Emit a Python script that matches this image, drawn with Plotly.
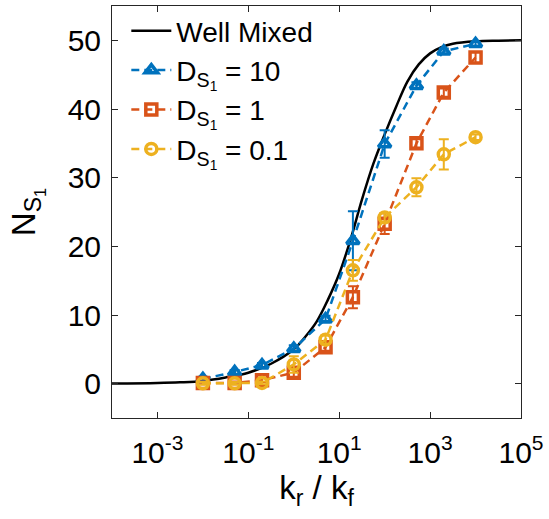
import plotly.graph_objects as go

# k_r / k_f values at which the spatial simulations were run
kr_kf = [0.01, 0.05, 0.2, 1, 5, 20, 100, 500, 2000, 10000]

# Mean N_S1 and error for each diffusion coefficient
n_d10 = [0.7, 1.7, 2.7, 5.1, 9.4, 20.8, 34.9, 43.4, 48.4, 49.5]
err_d10 = [0.3, 0.3, 0.3, 0.5, 0.5, 4.3, 2.0, 0.5, 0.4, 0.3]
n_d1 = [0.1, 0.1, 0.5, 1.6, 5.3, 12.6, 23.3, 35.0, 42.4, 47.5]
err_d1 = [0.2, 0.2, 0.3, 0.6, 0.5, 1.6, 1.5, 0.6, 0.6, 0.8]
n_d01 = [0.05, 0.05, 0.1, 2.8, 6.4, 16.5, 24.2, 28.6, 33.4, 35.9]
err_d01 = [0.2, 0.2, 0.2, 1.2, 0.6, 1.5, 0.6, 1.3, 2.2, 0.4]

# Well-mixed reference curve (log10 of k_r/k_f, N_S1)
wm_log = [-4, -3, -2.5, -2, -1.5, -1.0, -0.5, 0.0, 0.25, 0.5, 0.75, 1.0,
          1.25, 1.5, 1.75, 2.0, 2.25, 2.5, 2.75, 3.0, 3.25, 3.5, 4.0, 4.5, 5.0]
wm_n = [0.02, 0.1, 0.2, 0.4, 0.9, 1.6, 2.9, 5.0, 6.8, 9.0, 12.2, 16.0,
        21.0, 26.8, 32.0, 36.3, 40.3, 44.0, 46.5, 48.1, 49.0, 49.5, 49.85,
        49.95, 50.0]

x_tickvals = [1e-3, 1e-1, 1e1, 1e3, 1e5]
x_ticktext = ["10<sup>-3</sup>", "10<sup>-1</sup>", "10<sup>1</sup>",
              "10<sup>3</sup>", "10<sup>5</sup>"]
y_tickvals = [0, 10, 20, 30, 40, 50]

BLUE = "#0072BD"
ORANGE = "#D95319"
YELLOW = "#EDB120"
FONT = "Liberation Sans, Arial, Helvetica, sans-serif"

fig = go.Figure()

fig.add_trace(go.Scatter(
    x=[10 ** v for v in wm_log], y=wm_n, mode="lines",
    line=dict(color="black", width=2.5, shape="spline", smoothing=1.0),
    name="Well Mixed",
))

series = [
    (n_d10, err_d10, BLUE, "triangle-up-open", "D<sub>S<sub>1</sub></sub> = 10"),
    (n_d1, err_d1, ORANGE, "square-open", "D<sub>S<sub>1</sub></sub> = 1"),
    (n_d01, err_d01, YELLOW, "circle-open", "D<sub>S<sub>1</sub></sub> = 0.1"),
]
for vals, errs, color, symbol, label in series:
    fig.add_trace(go.Scatter(
        x=kr_kf, y=vals, mode="lines+markers", name=label,
        line=dict(color=color, width=2.5, dash="8px,5px"),
        marker=dict(symbol=symbol, size=11, color=color,
                    line=dict(color=color, width=3.5)),
        error_y=dict(type="data", array=errs, visible=True,
                     color=color, thickness=2, width=5),
    ))

axis_common = dict(
    showline=True, linecolor="#262626", linewidth=1, mirror="ticks",
    ticks="inside", ticklen=6, tickwidth=1, tickcolor="#262626",
    showgrid=False, zeroline=False,
    tickfont=dict(family=FONT, size=30, color="black"),
)

fig.update_xaxes(
    type="log", range=[-4, 5], tickvals=x_tickvals, ticktext=x_ticktext,
    ticklabelstandoff=8,
    title=dict(text="k<sub>r</sub> / k<sub>f</sub>",
               font=dict(family=FONT, size=33, color="black"), standoff=6),
    **axis_common,
)
fig.update_yaxes(
    range=[-5, 55], tickvals=y_tickvals, ticklabelstandoff=4,
    title=dict(text="N<sub>S<sub>1</sub></sub>",
               font=dict(family=FONT, size=33, color="black"), standoff=22),
    **axis_common,
)

fig.update_layout(
    width=549, height=519,
    margin=dict(l=112, r=23, t=5, b=101),
    paper_bgcolor="white", plot_bgcolor="white",
    font=dict(family=FONT, size=28, color="black"),
    legend=dict(x=0.035, y=1.0, xanchor="left", yanchor="top",
                bgcolor="rgba(0,0,0,0)", borderwidth=0, itemwidth=40,
                font=dict(family=FONT, size=28, color="black"),
                tracegroupgap=0),
    showlegend=True,
)

fig.write_html("out.html")
